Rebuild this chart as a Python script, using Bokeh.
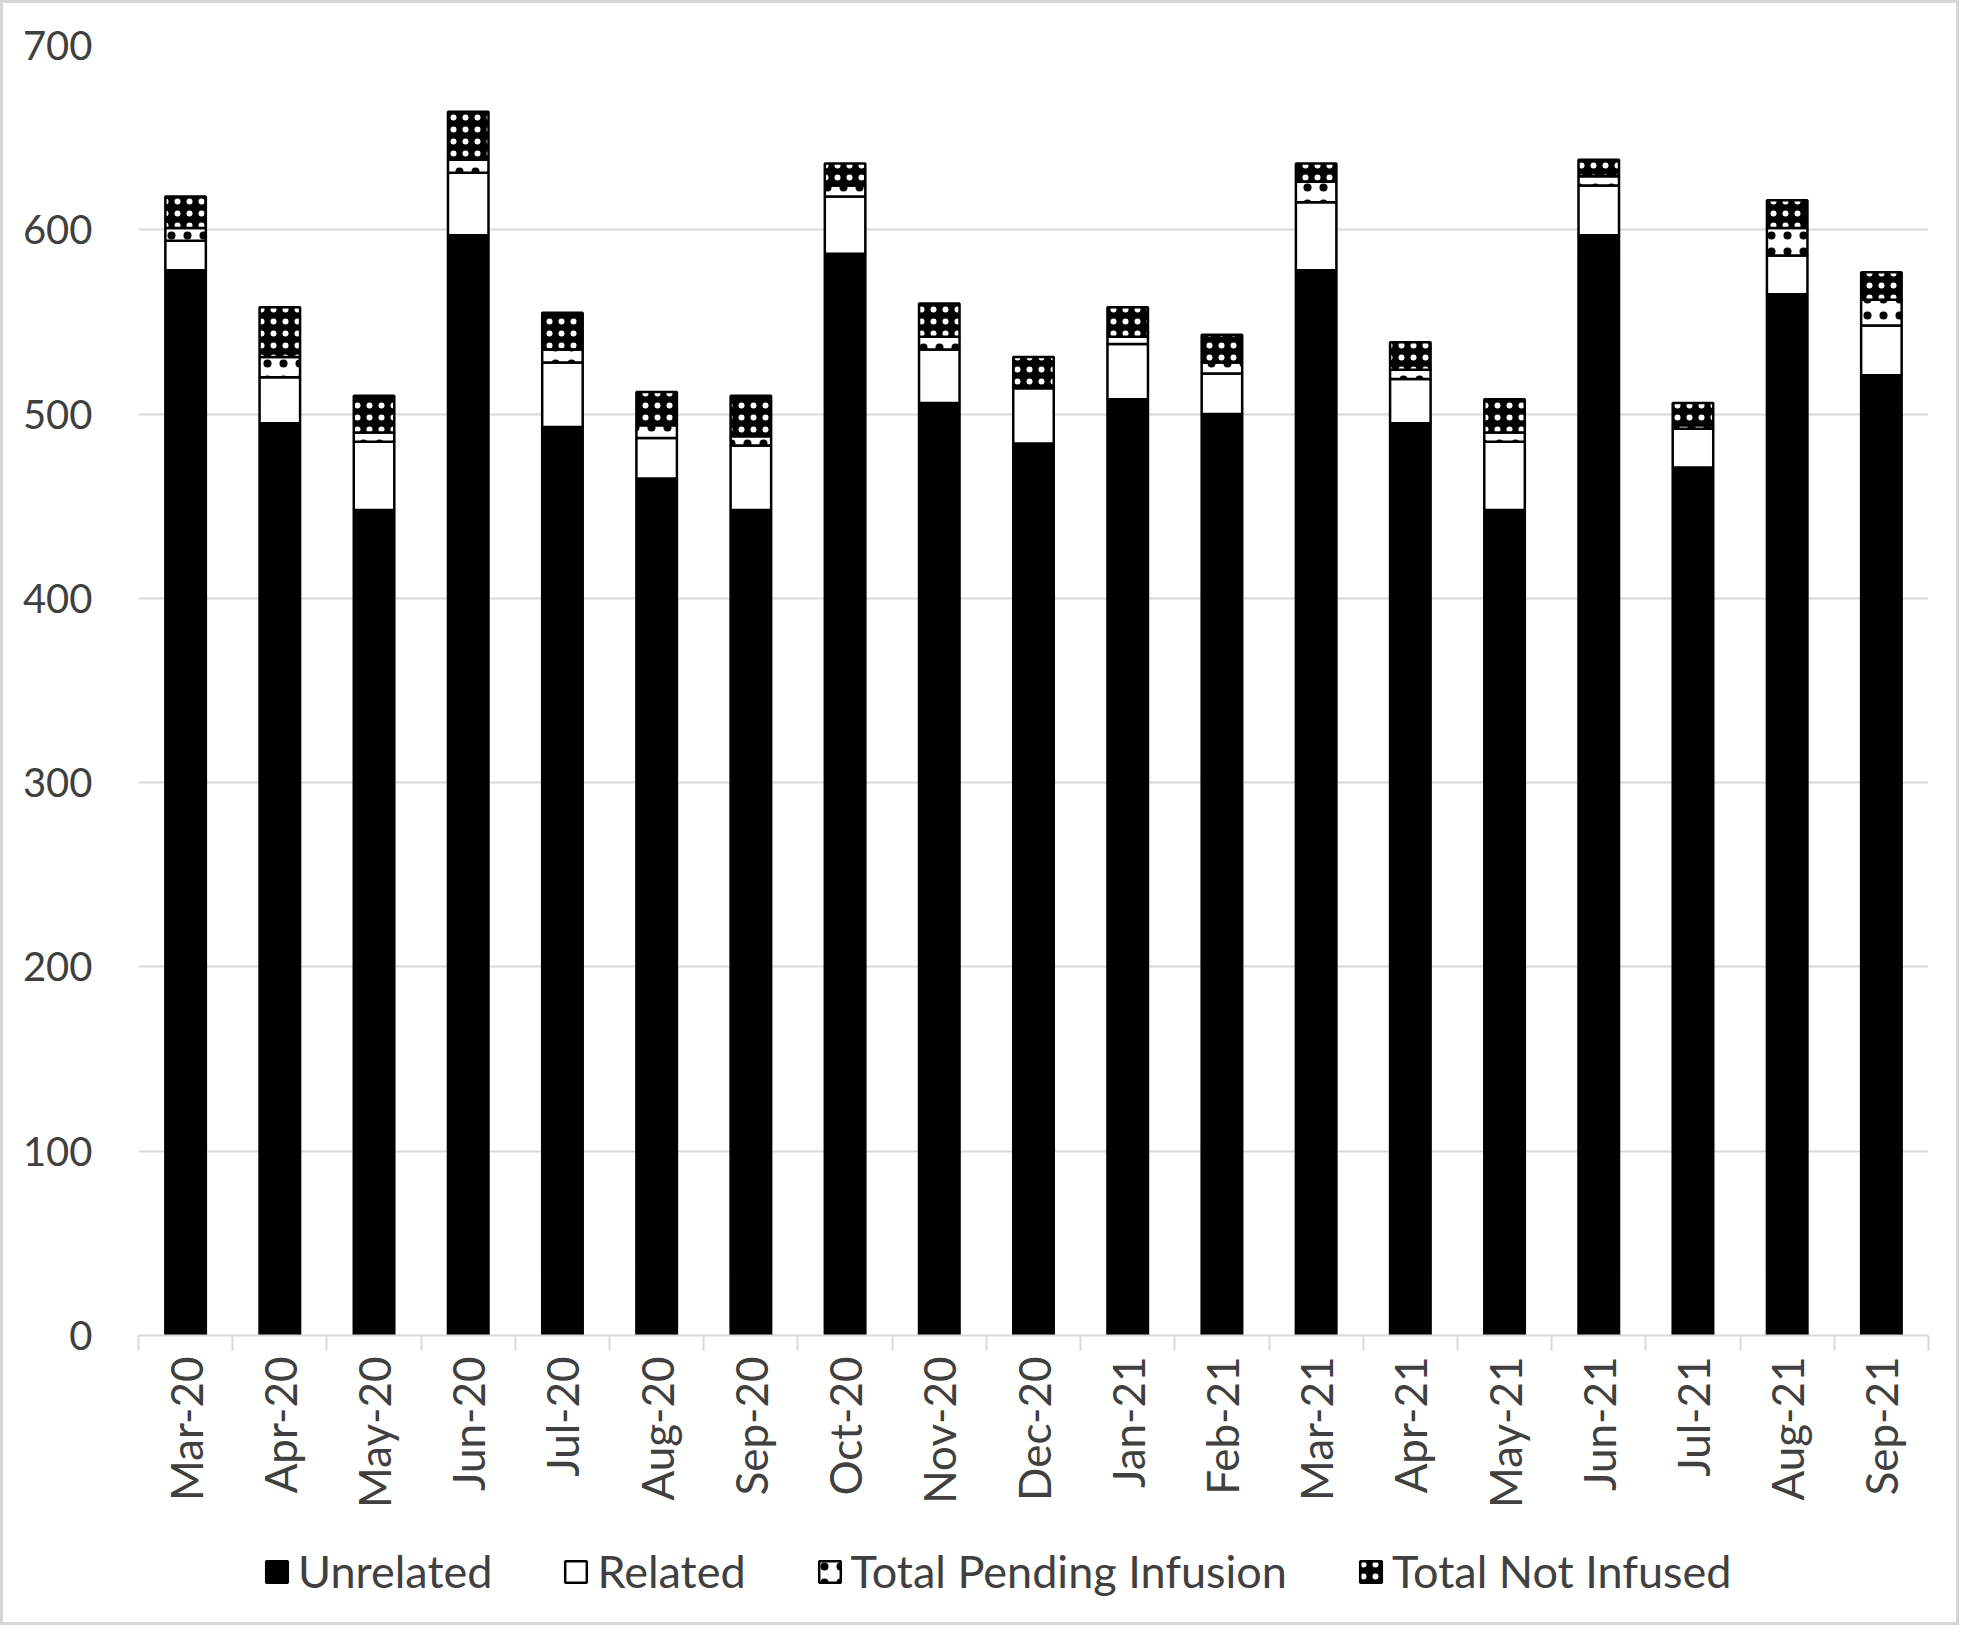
from bokeh.plotting import figure
from bokeh.models import (ColumnDataSource, Range1d, LinearAxis, FixedTicker, Legend)
from bokeh.layouts import column
from bokeh.embed import file_html
from bokeh.resources import INLINE
import math

months = ["Mar-20", "Apr-20", "May-20", "Jun-20", "Jul-20", "Aug-20", "Sep-20", "Oct-20",
          "Nov-20", "Dec-20", "Jan-21", "Feb-21", "Mar-21", "Apr-21", "May-21", "Jun-21",
          "Jul-21", "Aug-21", "Sep-21"]
unrelated = [578, 495, 448, 597, 493, 465, 448, 587, 506, 484, 508, 500, 578, 495, 448, 597, 471, 565, 521]
related = [16, 25, 37, 34, 35, 22, 35, 31, 29, 30, 30, 22, 37, 24, 37, 27, 21, 21, 27]
pending = [7, 11, 5, 7, 7, 7, 5, 6, 7, 1, 4, 6, 11, 5, 5, 5, 2, 15, 14]
not_infused = [17, 27, 20, 26, 20, 18, 22, 12, 18, 16, 16, 15, 10, 15, 18, 9, 12, 15, 15]

series_keys = ["unrelated", "related", "pending", "not_infused"]
series_labels = ["Unrelated", "Related", "Total Pending Infusion", "Total Not Infused"]
y_ticks = [0, 100, 200, 300, 400, 500, 600, 700]

# category slots: each month occupies one unit, centred at index + 0.5
n = len(months)
centers = [i + 0.5 for i in range(n)]
boundaries = list(range(n + 1))

source = ColumnDataSource(dict(x=centers, month=months, unrelated=unrelated, related=related,
                               pending=pending, not_infused=not_infused))

FONT = "Lato"
TXT = "#404040"
GRID = "#d9d9d9"

style = dict(fill_color=["black", "white", "white", "black"],
             line_color="black", line_width=2.5,
             hatch_pattern=[None, None, "dot", "dot"],
             hatch_color=["white", "white", "black", "white"],
             hatch_scale=[12, 12, 16, 12], hatch_weight=[1, 1, 1, 1])

W = 1953
H_MAIN = 1520
H_LEG = 99

p = figure(width=W, height=H_MAIN, x_range=Range1d(0, n), y_range=Range1d(0, 700),
           output_backend="svg", toolbar_location=None,
           x_axis_location=None, y_axis_location=None,
           min_border_left=135, min_border_right=28, min_border_top=42, min_border_bottom=188)
p.outline_line_color = None
p.background_fill_color = "white"
p.border_fill_color = "white"

renderers = p.vbar_stack(series_keys, x="x", width=0.43, source=source, **style)

# y axis
yax = LinearAxis(ticker=FixedTicker(ticks=y_ticks))
yax.axis_line_color = None
yax.major_tick_line_color = None
yax.minor_tick_line_color = None
yax.major_label_text_font = FONT
yax.major_label_text_font_size = "40px"
yax.major_label_text_color = TXT
yax.major_label_standoff = 40
p.add_layout(yax, "left")

p.ygrid.ticker = FixedTicker(ticks=y_ticks)
p.ygrid.grid_line_color = GRID
p.ygrid.grid_line_width = 2
p.xgrid.grid_line_color = None

# axis line with tick marks at category boundaries
tax = LinearAxis(ticker=FixedTicker(ticks=boundaries))
tax.axis_line_color = GRID
tax.axis_line_width = 2
tax.major_tick_line_color = GRID
tax.major_tick_line_width = 2
tax.major_tick_out = 15
tax.major_tick_in = 0
tax.minor_tick_line_color = None
tax.major_label_text_font_size = "1px"
tax.major_label_text_alpha = 0
tax.major_label_standoff = 0
p.add_layout(tax, "below")

# month labels at category centres
xax = LinearAxis(ticker=FixedTicker(ticks=centers),
                 major_label_overrides={c: m for c, m in zip(centers, months)})
xax.axis_line_color = None
xax.major_tick_line_color = None
xax.major_tick_out = 0
xax.major_tick_in = 0
xax.minor_tick_line_color = None
xax.major_label_orientation = math.pi / 2
xax.major_label_text_font = FONT
xax.major_label_text_font_size = "44px"
xax.major_label_text_color = TXT
xax.major_label_standoff = 6
p.add_layout(xax, "below")

# legend strip below the chart (hidden copy of the same stacked series supplies the swatches)
pl = figure(width=W, height=H_LEG, x_range=Range1d(0, n), y_range=Range1d(0, 700),
            output_backend="svg", toolbar_location=None,
            x_axis_location=None, y_axis_location=None,
            min_border_left=0, min_border_right=0, min_border_top=0, min_border_bottom=0)
pl.outline_line_color = None
pl.xgrid.grid_line_color = None
pl.ygrid.grid_line_color = None
leg_renderers = pl.vbar_stack(series_keys, x="x", width=0.43, source=source, **style)
for r in leg_renderers:
    r.visible = False

legend = Legend(items=[(lab, [r]) for lab, r in zip(series_labels, leg_renderers)],
                orientation="horizontal", location=(125, 24))
legend.label_text_font = FONT
legend.label_text_font_size = "45px"
legend.label_text_color = TXT
legend.glyph_width = 27
legend.glyph_height = 27
legend.label_standoff = 8
legend.spacing = 70
legend.padding = 0
legend.margin = 0
legend.border_line_color = None
legend.background_fill_color = None
legend.background_fill_alpha = 0
legend.inactive_fill_alpha = 0
legend.click_policy = "none"
pl.add_layout(legend, "center")

layout = column(p, pl, spacing=0, styles={"border": "3px solid #d6d6d6"})
open("out.html", "w").write(file_html(layout, INLINE))
